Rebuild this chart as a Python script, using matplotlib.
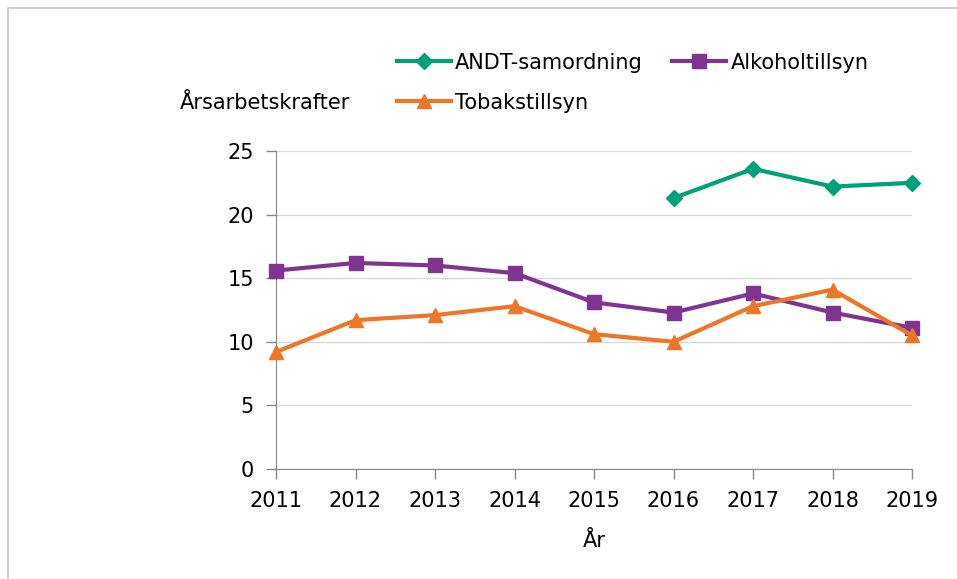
import matplotlib
matplotlib.use("Agg")
import matplotlib.pyplot as plt
from matplotlib.patches import Rectangle

years = [2011, 2012, 2013, 2014, 2015, 2016, 2017, 2018, 2019]
andt_years = [2016, 2017, 2018, 2019]
andt = [21.3, 23.6, 22.2, 22.5]
alkohol = [15.6, 16.2, 16.0, 15.4, 13.1, 12.3, 13.8, 12.3, 11.1]
tobak = [9.2, 11.7, 12.1, 12.8, 10.6, 10.0, 12.8, 14.1, 10.5]

c_andt = "#00A07A"
c_alk = "#7F3590"
c_tob = "#EE7628"

plt.rcParams['font.family'] = ['DejaVu Sans']
fig = plt.figure(figsize=(9.57, 5.79), dpi=100)
fig.patches.append(Rectangle((8/957, -10/579), 960/957, 581/579, transform=fig.transFigure,
                             fill=False, edgecolor="#C8C8C8", linewidth=1.2))
ax = fig.add_axes([276/957, 1-469/579, (912-276)/957, (469-151)/579])

h1, = ax.plot(andt_years, andt, color=c_andt, marker="D", markersize=8, linewidth=3,
              label="ANDT-samordning", clip_on=False, zorder=3)
h2, = ax.plot(years, alkohol, color=c_alk, marker="s", markersize=10, linewidth=3,
              label="Alkoholtillsyn", clip_on=False, zorder=3)
h3, = ax.plot(years, tobak, color=c_tob, marker="^", markersize=10, linewidth=3,
              label="Tobakstillsyn", clip_on=False, zorder=4)

ax.set_xlim(2011, 2019)
ax.set_ylim(0, 25)
ax.set_yticks([0, 5, 10, 15, 20, 25])
ax.set_xticks(years)
ax.tick_params(axis="both", labelsize=15, color="#888888", length=7, width=1)
ax.tick_params(axis="x", pad=9)
ax.tick_params(axis="y", pad=9)
ax.grid(axis="y", color="#D9D9D9", linewidth=1)
ax.set_axisbelow(True)
for s in ["top", "right"]:
    ax.spines[s].set_visible(False)
ax.spines["left"].set_color("#888888")
ax.spines["bottom"].set_color("#888888")

ax.set_xlabel("År", fontsize=15, labelpad=14)
fig.text(180/957, 1-103/579, "Årsarbetskrafter", fontsize=15, va="center", ha="left")

leg = fig.legend([h1, h3, h2], ["ANDT-samordning", "Tobakstillsyn", "Alkoholtillsyn"],
                 ncol=2, loc="upper left", bbox_to_anchor=(378/957, 1-34/579),
                 frameon=False, fontsize=15, handlelength=2.6, columnspacing=1.4,
                 handletextpad=0.2, labelspacing=0.95)

fig.savefig("out.png", dpi=100)
